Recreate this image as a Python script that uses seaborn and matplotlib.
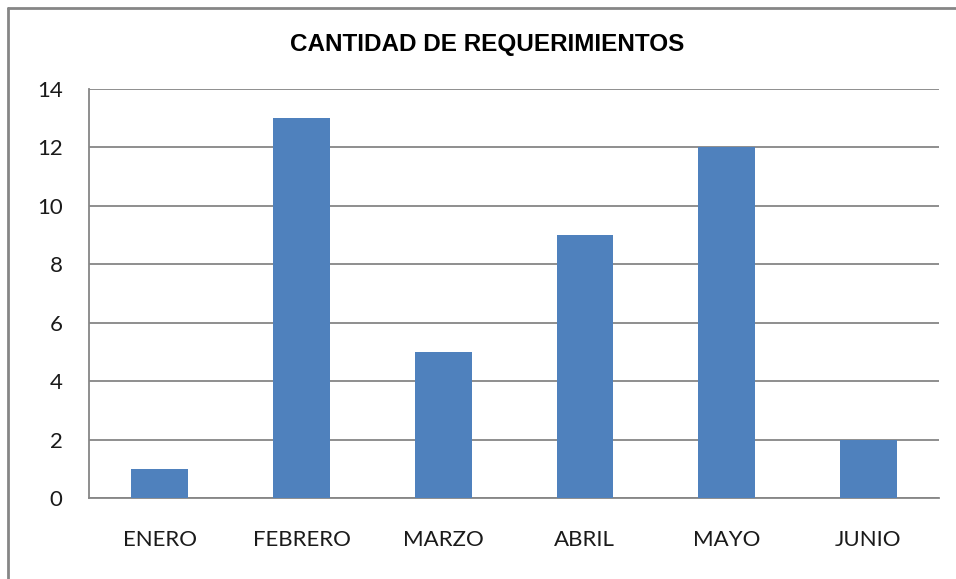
import matplotlib
matplotlib.use("Agg")
import matplotlib.pyplot as plt
import seaborn as sns
import pandas as pd
from matplotlib.lines import Line2D

meses = ["ENERO", "FEBRERO", "MARZO", "ABRIL", "MAYO", "JUNIO"]
cantidades = [1, 13, 5, 9, 12, 2]
y_ticks = [0, 2, 4, 6, 8, 10, 12, 14]
titulo = "CANTIDAD DE REQUERIMIENTOS"

df = pd.DataFrame({"mes": meses, "cantidad": cantidades})

sns.set_theme(style="white")
plt.rcParams["font.family"] = ["Lato", "DejaVu Sans"]

W, H = 956, 579
fig = plt.figure(figsize=(W / 100, H / 100), dpi=100)
ax = fig.add_axes([89 / W, (H - 498) / H, 850 / W, 409 / H])

sns.barplot(data=df, x="mes", y="cantidad", color="#4F81BD", width=0.4,
            saturation=1, ax=ax, zorder=3, linewidth=0)

ax.set_ylim(0, 14)
ax.set_xlim(-0.5, len(meses) - 0.5)
ax.set_yticks(y_ticks)
ax.set_yticklabels([str(t) for t in y_ticks])
ax.yaxis.grid(True, color="#868686", linewidth=1.3, zorder=0)
ax.set_axisbelow(True)
ax.set_xlabel("")
ax.set_ylabel("")

for s in ["top", "right"]:
    ax.spines[s].set_visible(False)
for s in ["left", "bottom"]:
    ax.spines[s].set_color("#868686")
    ax.spines[s].set_linewidth(1.3)

ax.tick_params(axis="y", length=0, pad=19, labelsize=16, labelcolor="#1a1a1a")
ax.tick_params(axis="x", length=0, pad=23, labelsize=16, labelcolor="#1a1a1a")

fig.text(487 / W, 1 - 44 / H, titulo, ha="center", va="center",
         fontsize=17.5, fontweight="bold", family=["Liberation Sans", "DejaVu Sans"],
         color="black")

# outer chart border (left and top visible)
fig.add_artist(Line2D([7.5 / W, 7.5 / W], [0, 1 - 8 / H], transform=fig.transFigure,
                      color="#868686", linewidth=2))
fig.add_artist(Line2D([7.5 / W, 1], [1 - 8 / H, 1 - 8 / H], transform=fig.transFigure,
                      color="#868686", linewidth=2))

fig.savefig("out.png", dpi=100)
